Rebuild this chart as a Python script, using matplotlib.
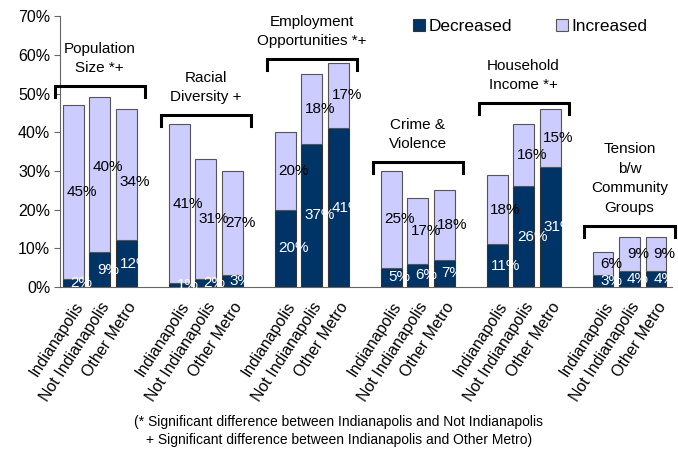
import matplotlib.pyplot as plt
import numpy as np

plt.rcParams['font.family'] = ['Liberation Sans', 'DejaVu Sans']

topics = ['Population\nSize *+', 'Racial\nDiversity +', 'Employment\nOpportunities *+',
          'Crime &\nViolence', 'Household\nIncome *+', 'Tension\nb/w\nCommunity\nGroups']
areas = ['Indianapolis', 'Not Indianapolis', 'Other Metro']

# percent of respondents, per topic: Indianapolis, Not Indianapolis, Other Metro
decreased = [[2, 9, 12], [1, 2, 3], [20, 37, 41], [5, 6, 7], [11, 26, 31], [3, 4, 4]]
increased = [[45, 40, 34], [41, 31, 27], [20, 18, 17], [25, 17, 18], [18, 16, 15], [6, 9, 9]]

# bracket height (top line) above each topic's bars
bracket_y = [51.9, 44.4, 58.9, 32.3, 47.5, 15.8]

navy = '#003366'
lavender = '#CCCCFF'

fig = plt.figure(figsize=(6.78, 4.49), dpi=100)
ax = fig.add_axes([0.0885, 0.361, 0.9025, 0.603])

x = []
dec = []
inc = []
xlabels = []
for g in range(len(topics)):
    for j in range(3):
        x.append(4 * g + j)
        dec.append(decreased[g][j])
        inc.append(increased[g][j])
        xlabels.append(areas[j])
x = np.array(x)
dec = np.array(dec)
inc = np.array(inc)

ax.bar(x, dec, width=0.79, color=navy, edgecolor='#333333', linewidth=0.8, label='Decreased')
ax.bar(x, inc, width=0.79, bottom=dec, color=lavender, edgecolor='#555555', linewidth=0.8,
       label='Increased')

# keep the two neighbouring population labels apart
nudge = {1: 2.0, 2: -2.0}

for k, (xi, d, i) in enumerate(zip(x, dec, inc)):
    ax.text(xi + 0.32, d / 2, '%d%%' % d, color='white', ha='center', va='center', fontsize=11)
    ax.text(xi + 0.32, d + i / 2 + nudge.get(k, 0), '%d%%' % i, color='black', ha='center',
            va='center', fontsize=11)

# brackets and topic titles
for g, name in enumerate(topics):
    c = 4 * g + 1
    yb = bracket_y[g]
    ax.plot([c - 1.7, c - 1.7, c + 1.7, c + 1.7], [yb - 2.9, yb, yb, yb - 2.9],
            color='black', linewidth=2.2, solid_joinstyle='miter', clip_on=False, zorder=4)
    ax.text(c, yb + 2.8, name, ha='center', va='bottom', fontsize=11, linespacing=1.5)

ax.set_xlim(-0.5, 22.6)
ax.set_ylim(0, 70)
ax.set_yticks(np.arange(0, 71, 10))
ax.set_yticklabels(['%d%%' % v for v in range(0, 71, 10)], fontsize=11.5)
ax.set_xticks(x)
ax.set_xticklabels(xlabels, rotation=57, ha='right', va='top', rotation_mode='anchor',
                   fontsize=11.5)
ax.tick_params(axis='x', length=0, pad=9)
ax.tick_params(axis='y', length=4, color='#666666', direction='out', pad=3)
for s in ['top', 'right']:
    ax.spines[s].set_visible(False)
ax.spines['left'].set_color('#666666')
ax.spines['bottom'].set_color('#666666')

fig.legend(*ax.get_legend_handles_labels(), loc='center left', bbox_to_anchor=(0.609, 0.94),
           ncol=2, frameon=False, fontsize=12.4, borderpad=0, borderaxespad=0,
           handlelength=0.7, handleheight=0.7, handletextpad=0.2, columnspacing=2.55)

fig.text(0.5, 0.04, '(* Significant difference between Indianapolis and Not Indianapolis\n'
         '+ Significant difference between Indianapolis and Other Metro)',
         ha='center', va='center', fontsize=10, linespacing=1.35)

fig.savefig('out.png', dpi=100)
